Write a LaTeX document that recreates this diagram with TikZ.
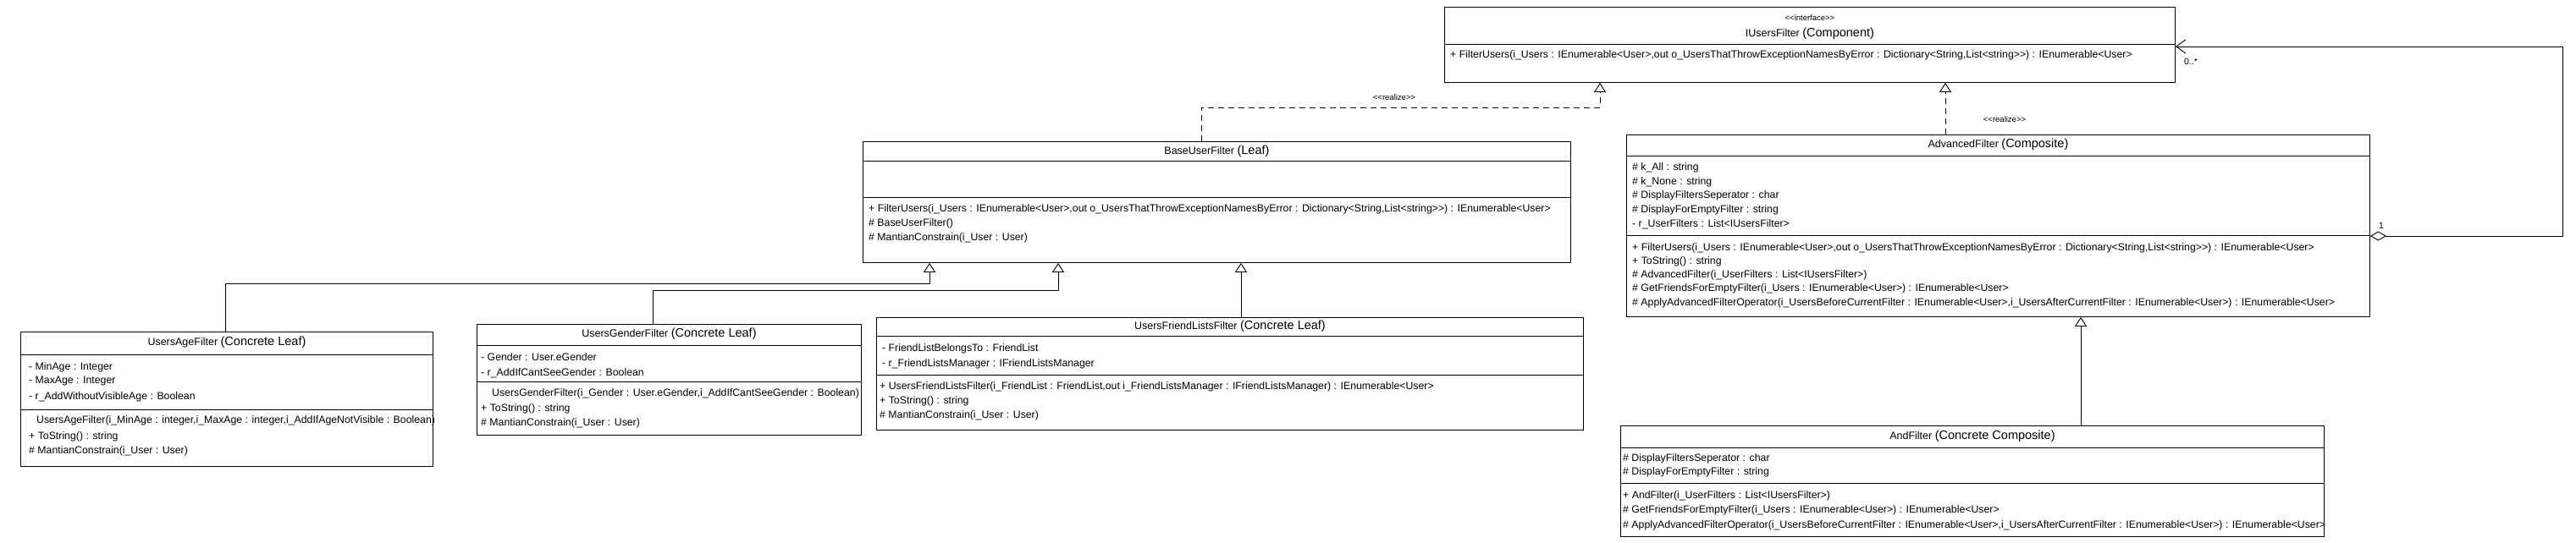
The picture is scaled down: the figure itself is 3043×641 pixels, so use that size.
\documentclass[tikz,border=0pt]{standalone}
\usepackage{fontspec}
\setmainfont{Liberation Sans}
\usetikzlibrary{arrows.meta,calc}
\newcommand{\dlt}{<\kern0pt<}
\newcommand{\dgt}{>\kern0pt>}
\newcommand{\kind}[1]{{\fontsize{14.5}{16}\selectfont #1}}

\begin{document}
\begin{tikzpicture}[x=1pt, y=-1pt,
  every node/.style={inner sep=0pt, font=\fontsize{12.3}{14}\selectfont},
  cls/.style={draw, line width=0.9pt, fill=white, anchor=north west},
  ttl/.style={anchor=center, font=\fontsize{12.5}{14}\selectfont},
  mem/.style={anchor=west},
  ster/.style={font=\fontsize{9.5}{11}\selectfont},
  mult/.style={font=\fontsize{10.5}{12}\selectfont},
  sep/.style={line width=0.9pt},
  conn/.style={line width=0.9pt},
  real/.style={conn, dash pattern=on 7pt off 5pt,
    -{Triangle[open, length=11pt, width=14pt]}},
  gen/.style={conn, -{Triangle[open, length=11pt, width=14pt]}},
  agg/.style={conn, {Diamond[open, length=19pt, width=11pt]}-{Straight Barb[length=11pt, width=16pt]}}]

  \fill[white] (0,0) rectangle (3043,641);
  \useasboundingbox (0,0) rectangle (3043,641);

  % interface
  \node[cls, minimum width=863pt, minimum height=89pt] (iface) at (1706,8) {};
  \draw[sep] ($(iface.north west)+(0,44)$) -- ($(iface.north east)+(0,44)$);
  \node[ster] (iface-s) at ($(iface.north)+(0,13)$) {\dlt interface\dgt};
  \node[ttl] (iface-t) at ($(iface.north)+(0,32)$) {IUsersFilter \kind{(Component)}};
  \node[mem] (iface-m1) at ($(iface.north west)+(7,57)$)
    {+ FilterUsers(i\_Users : IEnumerable<User>,out o\_UsersThatThrowExceptionNamesByError : Dictionary<String,List<string\dgt) : IEnumerable<User>};

  % leaf
  \node[cls, minimum width=836pt, minimum height=143pt] (base) at (1019,167) {};
  \draw[sep] ($(base.north west)+(0,23)$) -- ($(base.north east)+(0,23)$);
  \draw[sep] ($(base.north west)+(0,66)$) -- ($(base.north east)+(0,66)$);
  \node[ttl] (base-t) at ($(base.north)+(0,12)$) {BaseUserFilter \kind{(Leaf)}};
  \node[mem] (base-m1) at ($(base.north west)+(7,80)$)
    {+ FilterUsers(i\_Users : IEnumerable<User>,out o\_UsersThatThrowExceptionNamesByError : Dictionary<String,List<string\dgt) : IEnumerable<User>};
  \node[mem] (base-m2) at ($(base.north west)+(7,97)$) {\# BaseUserFilter()};
  \node[mem] (base-m3) at ($(base.north west)+(7,114)$) {\# MantianConstrain(i\_User : User)};

  % composite
  \node[cls, minimum width=878pt, minimum height=215pt] (adv) at (1921,159) {};
  \draw[sep] ($(adv.north west)+(0,25)$) -- ($(adv.north east)+(0,25)$);
  \draw[sep] ($(adv.north west)+(0,119)$) -- ($(adv.north east)+(0,119)$);
  \node[ttl] (adv-t) at ($(adv.north)+(0,12)$) {AdvancedFilter \kind{(Composite)}};
  \node[mem] (adv-a1) at ($(adv.north west)+(7,39)$) {\# k\_All : string};
  \node[mem] (adv-a2) at ($(adv.north west)+(7,56)$) {\# k\_None : string};
  \node[mem] (adv-a3) at ($(adv.north west)+(7,72)$) {\# DisplayFiltersSeperator : char};
  \node[mem] (adv-a4) at ($(adv.north west)+(7,89)$) {\# DisplayForEmptyFilter : string};
  \node[mem] (adv-a5) at ($(adv.north west)+(7,106)$) {- r\_UserFilters : List<IUsersFilter>};
  \node[mem] (adv-m1) at ($(adv.north west)+(7,134)$)
    {+ FilterUsers(i\_Users : IEnumerable<User>,out o\_UsersThatThrowExceptionNamesByError : Dictionary<String,List<string\dgt) : IEnumerable<User>};
  \node[mem] (adv-m2) at ($(adv.north west)+(7,150)$) {+ ToString() : string};
  \node[mem] (adv-m3) at ($(adv.north west)+(7,166)$) {\# AdvancedFilter(i\_UserFilters : List<IUsersFilter>)};
  \node[mem] (adv-m4) at ($(adv.north west)+(7,182)$)
    {\# GetFriendsForEmptyFilter(i\_Users : IEnumerable<User>) : IEnumerable<User>};
  \node[mem] (adv-m5) at ($(adv.north west)+(7,199)$)
    {\# ApplyAdvancedFilterOperator(i\_UsersBeforeCurrentFilter : IEnumerable<User>,i\_UsersAfterCurrentFilter : IEnumerable<User>) : IEnumerable<User>};

  % concrete leaves
  \node[cls, minimum width=487pt, minimum height=159pt] (age) at (24,392) {};
  \draw[sep] ($(age.north west)+(0,27)$) -- ($(age.north east)+(0,27)$);
  \draw[sep] ($(age.north west)+(0,92)$) -- ($(age.north east)+(0,92)$);
  \node[ttl] (age-t) at ($(age.north)+(0,13)$) {UsersAgeFilter \kind{(Concrete Leaf)}};
  \node[mem] (age-a1) at ($(age.north west)+(10,42)$) {- MinAge : Integer};
  \node[mem] (age-a2) at ($(age.north west)+(10,59)$) {- MaxAge : Integer};
  \node[mem] (age-a3) at ($(age.north west)+(10,77)$) {- r\_AddWithoutVisibleAge : Boolean};
  \node[mem] (age-m1) at ($(age.north west)+(19,105)$)
    {UsersAgeFilter(i\_MinAge : integer,i\_MaxAge : integer,i\_AddIfAgeNotVisible : Boolean)};
  \node[mem] (age-m2) at ($(age.north west)+(10,124)$) {+ ToString() : string};
  \node[mem] (age-m3) at ($(age.north west)+(10,141)$) {\# MantianConstrain(i\_User : User)};

  \node[cls, minimum width=454pt, minimum height=131pt] (gender) at (563,383) {};
  \draw[sep] ($(gender.north west)+(0,25)$) -- ($(gender.north east)+(0,25)$);
  \draw[sep] ($(gender.north west)+(0,68)$) -- ($(gender.north east)+(0,68)$);
  \node[ttl] (gender-t) at ($(gender.north)+(0,12)$) {UsersGenderFilter \kind{(Concrete Leaf)}};
  \node[mem] (gender-a1) at ($(gender.north west)+(5,39)$) {- Gender : User.eGender};
  \node[mem] (gender-a2) at ($(gender.north west)+(5,58)$) {- r\_AddIfCantSeeGender : Boolean};
  \node[mem] (gender-m1) at ($(gender.north west)+(18,82)$)
    {UsersGenderFilter(i\_Gender : User.eGender,i\_AddIfCantSeeGender : Boolean)};
  \node[mem] (gender-m2) at ($(gender.north west)+(5,100)$) {+ ToString() : string};
  \node[mem] (gender-m3) at ($(gender.north west)+(5,117)$) {\# MantianConstrain(i\_User : User)};

  \node[cls, minimum width=835pt, minimum height=133pt] (friend) at (1035,375) {};
  \draw[sep] ($(friend.north west)+(0,22)$) -- ($(friend.north east)+(0,22)$);
  \draw[sep] ($(friend.north west)+(0,68)$) -- ($(friend.north east)+(0,68)$);
  \node[ttl] (friend-t) at ($(friend.north)+(0,11)$) {UsersFriendListsFilter \kind{(Concrete Leaf)}};
  \node[mem] (friend-a1) at ($(friend.north west)+(7,37)$) {- FriendListBelongsTo : FriendList};
  \node[mem] (friend-a2) at ($(friend.north west)+(7,55)$) {- r\_FriendListsManager : IFriendListsManager};
  \node[mem] (friend-m1) at ($(friend.north west)+(4,82)$)
    {+ UsersFriendListsFilter(i\_FriendList : FriendList,out i\_FriendListsManager : IFriendListsManager) : IEnumerable<User>};
  \node[mem] (friend-m2) at ($(friend.north west)+(4,99)$) {+ ToString() : string};
  \node[mem] (friend-m3) at ($(friend.north west)+(4,116)$) {\# MantianConstrain(i\_User : User)};

  % concrete composite
  \node[cls, minimum width=831pt, minimum height=131pt] (andf) at (1914,503) {};
  \draw[sep] ($(andf.north west)+(0,26)$) -- ($(andf.north east)+(0,26)$);
  \draw[sep] ($(andf.north west)+(0,68)$) -- ($(andf.north east)+(0,68)$);
  \node[ttl] (andf-t) at ($(andf.north)+(0,13)$) {AndFilter \kind{(Concrete Composite)}};
  \node[mem] (andf-a1) at ($(andf.north west)+(3,39)$) {\# DisplayFiltersSeperator : char};
  \node[mem] (andf-a2) at ($(andf.north west)+(3,55)$) {\# DisplayForEmptyFilter : string};
  \node[mem] (andf-m1) at ($(andf.north west)+(3,83)$) {+ AndFilter(i\_UserFilters : List<IUsersFilter>)};
  \node[mem] (andf-m2) at ($(andf.north west)+(3,100)$)
    {\# GetFriendsForEmptyFilter(i\_Users : IEnumerable<User>) : IEnumerable<User>};
  \node[mem] (andf-m3) at ($(andf.north west)+(3,118)$)
    {\# ApplyAdvancedFilterOperator(i\_UsersBeforeCurrentFilter : IEnumerable<User>,i\_UsersAfterCurrentFilter : IEnumerable<User>) : IEnumerable<User>};

  % bends
  \coordinate (rb) at (1890,127);
  \coordinate (ra) at (2298,0);
  \coordinate (gage) at (1098,335);
  \coordinate (ggen) at (1250,343);
  \coordinate (gfr) at (1466,0);
  \coordinate (gand) at (2458,0);
  \coordinate (lpa) at (3027,279);
  \coordinate (lpb) at (3027,55);

  \draw[real] ($(base.north west)+(400,0)$) |- (rb) -- (rb |- iface.south);
  \draw[real] (ra |- adv.north) -- (ra |- iface.south);
  \draw[gen] ($(age.north west)+(242,0)$) |- (gage) -- (gage |- base.south);
  \draw[gen] ($(gender.north west)+(208,0)$) |- (ggen) -- (ggen |- base.south);
  \draw[gen] (gfr |- friend.north) -- (gfr |- base.south);
  \draw[gen] (gand |- andf.north) -- (gand |- adv.south);
  \draw[agg] (adv.east |- lpa) -- (lpa) -- (lpb) -- (iface.east |- lpb);

  \node[ster] (rl1) at (1647,115) {\dlt realize\dgt};
  \node[ster] (rl2) at (2368,141) {\dlt realize\dgt};
  \node[mult] (m1) at (2813,267) {1};
  \node[mult] (m2) at (2588,73) {0..*};
\end{tikzpicture}
\end{document}
